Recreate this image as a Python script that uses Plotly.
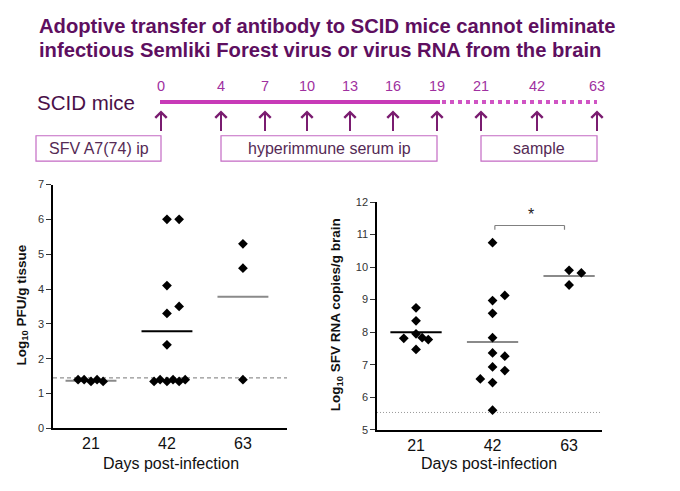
import plotly.graph_objects as go

W, H = 680, 491

# ---------------- data ----------------
days = [21, 42, 63]
group_pos = [1, 2, 3]

# Left panel: Log10 PFU/g tissue
pfu_21 = [1.4, 1.4, 1.35, 1.4, 1.35]
pfu_21_jit = [-0.17, -0.09, 0.0, 0.08, 0.16]
pfu_42 = [6.0, 6.0, 4.1, 3.5, 3.3, 2.4, 1.35, 1.4, 1.35, 1.4, 1.35, 1.4]
pfu_42_jit = [0.0, 0.16, 0.0, 0.16, 0.0, 0.0, -0.17, -0.09, 0.0, 0.08, 0.16, 0.24]
pfu_63 = [5.3, 4.6, 1.4]
pfu_63_jit = [0.0, 0.0, 0.0]
pfu_center = [1.37, 2.79, 3.78]
pfu_center_colors = ["#8a8a8a", "#000000", "#8a8a8a"]
pfu_limit = 1.45

# Right panel: Log10 SFV RNA copies/g brain
rna_21 = [8.75, 8.35, 7.95, 7.81, 7.83, 7.77, 7.47]
rna_21_jit = [0.0, 0.0, 0.0, -0.16, 0.08, 0.16, 0.0]
rna_42 = [10.75, 9.13, 8.97, 8.58, 7.83, 7.36, 7.26, 6.93, 6.82, 6.56, 6.45, 5.6]
rna_42_jit = [0.0, 0.16, 0.0, 0.0, 0.0, 0.0, 0.16, 0.0, 0.16, -0.16, 0.0, 0.0]
rna_63 = [9.9, 9.82, 9.45]
rna_63_jit = [0.0, 0.16, 0.0]
rna_center = [8.0, 7.7, 9.73]
rna_center_colors = ["#000000", "#8a8a8a", "#8a8a8a"]
rna_limit = 5.53
sig_pair = (2, 3)
sig_y = 11.28
sig_label = "*"

# Timeline schematic
timeline_days = [0, 4, 7, 10, 13, 16, 19, 21, 42, 63]
timeline_x = [161, 221, 265, 307, 350, 393, 437, 481, 537, 597]
treat_end_day = 19
boxes = [("SFV A7(74) ip", 0, 0), ("hyperimmune serum ip", 4, 19), ("sample", 21, 63)]

# ---------------- helpers (window pixels -> paper) ----------------
def px(x):
    return x / W

def py(y):
    return 1 - y / H

TITLE_C = "#5E0F5F"
LINE_C = "#C83AB8"
NUM_C = "#A030A0"
ARROW_C = "#7A1C70"
BOX_C = "#C46AC4"
BOXTXT_C = "#552A55"
FONT = "Liberation Sans"

fig = go.Figure()

def add_groups(vals_list, jit_list, xa, ya):
    for g, vals, jit in zip(group_pos, vals_list, jit_list):
        fig.add_trace(go.Scatter(
            x=[g + j for j in jit], y=vals, mode="markers",
            marker=dict(symbol="diamond", size=7.5, color="black"),
            xaxis=xa, yaxis=ya, showlegend=False, hoverinfo="skip", cliponaxis=False))

add_groups([pfu_21, pfu_42, pfu_63], [pfu_21_jit, pfu_42_jit, pfu_63_jit], "x", "y")
add_groups([rna_21, rna_42, rna_63], [rna_21_jit, rna_42_jit, rna_63_jit], "x2", "y2")

shapes = []
HALF = 0.335
for g, c, col in zip(group_pos, pfu_center, pfu_center_colors):
    shapes.append(dict(type="line", xref="x", yref="y", x0=g - HALF, x1=g + HALF,
                       y0=c, y1=c, line=dict(color=col, width=2), layer="below"))
for g, c, col in zip(group_pos, rna_center, rna_center_colors):
    shapes.append(dict(type="line", xref="x2", yref="y2", x0=g - HALF, x1=g + HALF,
                       y0=c, y1=c, line=dict(color=col, width=2), layer="below"))

# detection limits
shapes.append(dict(type="line", xref="x domain", yref="y", x0=0, x1=1, y0=pfu_limit, y1=pfu_limit,
                   line=dict(color="#777777", width=1, dash="4px,3px"), layer="below"))
shapes.append(dict(type="line", xref="x2 domain", yref="y2", x0=0, x1=1, y0=rna_limit, y1=rna_limit,
                   line=dict(color="#999999", width=1, dash="1px,2px"), layer="below"))

# significance bracket
a, b = sig_pair
bx0, bx1 = a + 0.03, b - 0.06
for seg in [(bx0, bx1, sig_y, sig_y), (bx0, bx0, sig_y, sig_y - 0.13), (bx1, bx1, sig_y, sig_y - 0.13)]:
    shapes.append(dict(type="line", xref="x2", yref="y2", x0=seg[0], x1=seg[1], y0=seg[2], y1=seg[3],
                       line=dict(color="#808080", width=1.2)))

annotations = []

def text_ann(x, y, text, size, color, xanchor="center", angle=0):
    annotations.append(dict(x=x, y=y, xref="paper", yref="paper",
                            text=text, showarrow=False, xanchor=xanchor, yanchor="middle",
                            textangle=angle, font=dict(size=size, color=color, family=FONT)))

annotations.append(dict(x=(a + b) / 2, y=sig_y + 0.33, xref="x2", yref="y2", text=sig_label,
                        showarrow=False, xanchor="center", yanchor="middle",
                        font=dict(size=16, color="#222222", family=FONT)))

# ---------------- timeline ----------------
TL_Y = 98.5
end_x = timeline_x[timeline_days.index(treat_end_day)]
shapes.append(dict(type="line", xref="paper", yref="paper", x0=px(timeline_x[0] - 1), x1=px(end_x + 3),
                   y0=py(TL_Y), y1=py(TL_Y), line=dict(color=LINE_C, width=4)))
shapes.append(dict(type="line", xref="paper", yref="paper", x0=px(end_x + 5), x1=px(timeline_x[-1]),
                   y0=py(TL_Y), y1=py(TL_Y), line=dict(color="#D055C4", width=4, dash="4px,4px")))

for d, x in zip(timeline_days, timeline_x):
    text_ann(px(x), py(82), str(d), 14.5, NUM_C)
    annotations.append(dict(x=px(x), y=py(107), xref="paper", yref="paper", text="",
                            showarrow=True, ax=0, ay=22, arrowhead=4, arrowsize=1.1,
                            arrowwidth=2, arrowcolor=ARROW_C, standoff=0, startstandoff=0))

BOX_T, BOX_B = 133, 159
for label, d0, d1 in boxes:
    if d0 == d1:
        x0, x1 = 36, timeline_x[timeline_days.index(d0)]
    else:
        x0 = timeline_x[timeline_days.index(d0)]
        x1 = timeline_x[timeline_days.index(d1)]
    shapes.append(dict(type="rect", xref="paper", yref="paper", x0=px(x0), x1=px(x1),
                       y0=py(BOX_B), y1=py(BOX_T), line=dict(color=BOX_C, width=1.2)))
    text_ann(px((x0 + x1) / 2), py(146), label, 16, BOXTXT_C)

text_ann(px(35), py(99), "SCID mice", 20.5, "#4A1048", xanchor="left")

# title
text_ann(px(37), py(20), "<b>Adoptive transfer of antibody to SCID mice cannot eliminate</b>",
         20.2, TITLE_C, xanchor="left")
text_ann(px(37), py(45), "<b>infectious Semliki Forest virus or virus RNA from the brain</b>",
         20.2, TITLE_C, xanchor="left")

# axis titles
text_ann(px(22), py(307), "<b>Log<sub>10</sub> PFU/g tissue</b>", 13.5, "#111111", angle=-90)
text_ann(px(336), py(317), "<b>Log<sub>10</sub> SFV RNA copies/g brain</b>", 13.5, "#111111", angle=-90)
text_ann(px(171), py(469), "Days post-infection", 16, "#111111")
text_ann(px(489), py(469), "Days post-infection", 16, "#111111")

xcommon = dict(tickvals=group_pos, ticktext=[str(d) for d in days], showgrid=False, zeroline=False,
               showline=True, linecolor="black", linewidth=1.5, ticks="", ticklen=0,
               tickfont=dict(size=16, color="#111111", family=FONT))
ycommon = dict(showgrid=False, zeroline=False, showline=True, linecolor="black", linewidth=1.5,
               ticks="outside", ticklen=5, tickwidth=1, tickcolor="#333333", dtick=1,
               tickfont=dict(size=11, color="#333333", family=FONT))

fig.update_layout(
    width=W, height=H, autosize=False,
    margin=dict(l=0, r=0, t=0, b=0),
    paper_bgcolor="white", plot_bgcolor="white",
    showlegend=False,
    xaxis=dict(domain=[px(53), px(287)], range=[0.5, 3.58], anchor="y", **xcommon),
    yaxis=dict(domain=[py(433), py(183)], range=[0, 7], anchor="x", **ycommon),
    xaxis2=dict(domain=[px(377), px(602)], range=[0.49, 3.43], anchor="y2", **xcommon),
    yaxis2=dict(domain=[py(434.3), py(201)], range=[5, 12], anchor="x2", **ycommon),
    shapes=shapes,
    annotations=annotations,
)

# Remove the default page margin so the figure fills the 680x491 window exactly
fig.write_html("out.html", config={"displayModeBar": False},
               post_script="document.body.style.margin='0';document.body.style.overflow='hidden';")
